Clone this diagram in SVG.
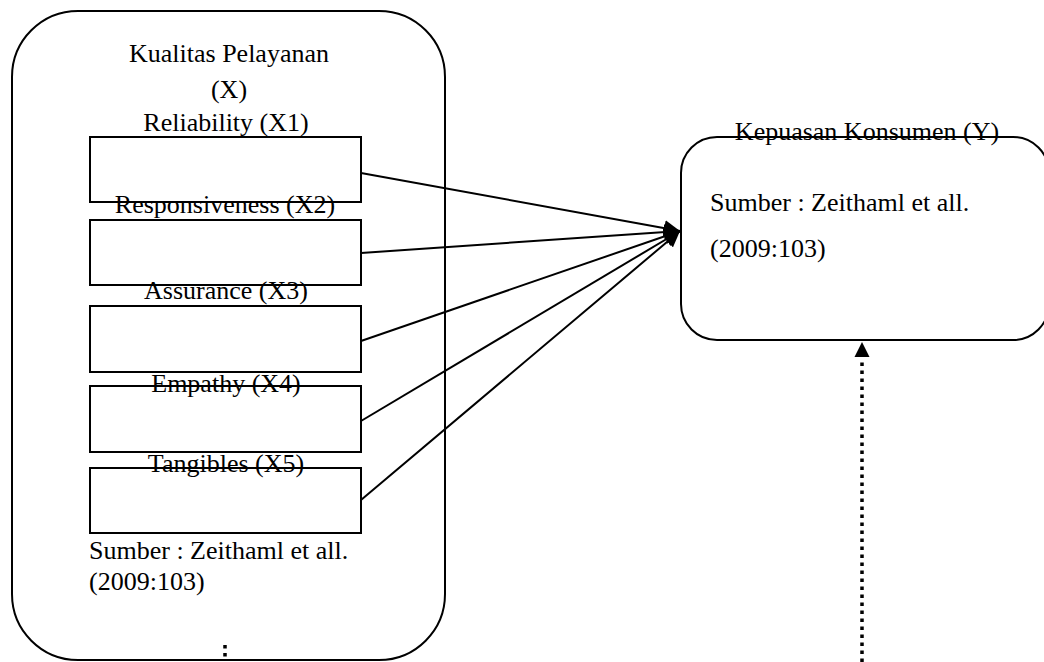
<svg xmlns="http://www.w3.org/2000/svg" width="1044" height="662" viewBox="0 0 1044 662">
<defs>
<style>
text{font-family:"Liberation Serif","Times New Roman",serif;font-size:26px;fill:#000}
.c{text-anchor:middle}
.box{fill:none;stroke:#000;stroke-width:2}
.ln{stroke:#000;stroke-width:2;fill:none}
.dot{stroke:#000;stroke-width:3.5;stroke-dasharray:3.5 4.5;fill:none}
</style>
<marker id="ah" viewBox="0 0 10 10" refX="10" refY="5" markerWidth="9" markerHeight="9" markerUnits="userSpaceOnUse" orient="auto">
<path d="M0,0 L10,5 L0,10 z" fill="#000"/>
</marker>
<marker id="ah2" viewBox="0 0 10 10" refX="10" refY="5" markerWidth="16" markerHeight="16" markerUnits="userSpaceOnUse" orient="auto">
<path d="M0,0 L10,5 L0,10 z" fill="#000"/>
</marker>
</defs>
<g id="kualitas">
<rect class="box" x="12" y="11" width="433" height="649" rx="66" ry="66"/>
<text class="c" x="229" y="62">Kualitas Pelayanan</text>
<text class="c" x="229" y="98">(X)</text>
<text x="89" y="559">Sumber : Zeithaml et all.</text>
<text x="89" y="590">(2009:103)</text>
</g>
<g id="x1"><rect class="box" x="90" y="137" width="271" height="65"/><text class="c" x="226" y="131">Reliability (X1)</text></g>
<g id="x2"><rect class="box" x="90" y="220" width="271" height="65"/><text class="c" x="225" y="213">Responsiveness (X2)</text></g>
<g id="x3"><rect class="box" x="90" y="306" width="271" height="66"/><text class="c" x="226" y="299">Assurance (X3)</text></g>
<g id="x4"><rect class="box" x="90" y="386" width="271" height="66"/><text class="c" x="226" y="392">Empathy (X4)</text></g>
<g id="x5"><rect class="box" x="90" y="468" width="271" height="65"/><text class="c" x="226" y="472">Tangibles (X5)</text></g>
<g id="kepuasan">
<rect class="box" x="681" y="137" width="368" height="203" rx="36" ry="36"/>
<text class="c" x="867" y="140">Kepuasan Konsumen (Y)</text>
<text x="710" y="211">Sumber : Zeithaml et all.</text>
<text x="710" y="257">(2009:103)</text>
</g>
<g id="connectors">
<line class="ln" x1="361" y1="173" x2="680" y2="231" marker-end="url(#ah2)"/>
<line class="ln" x1="361" y1="253" x2="680" y2="231" marker-end="url(#ah2)"/>
<line class="ln" x1="361" y1="341" x2="680" y2="231" marker-end="url(#ah2)"/>
<line class="ln" x1="361" y1="421" x2="680" y2="231" marker-end="url(#ah2)"/>
<line class="ln" x1="361" y1="500" x2="680" y2="231" marker-end="url(#ah2)"/>
<line class="dot" x1="862" y1="662" x2="862" y2="358"/>
<path d="M862,342 L869.5,357 L854.5,357 z" fill="#000"/>
<line class="dot" x1="225" y1="645" x2="225" y2="658"/>
</g>
</svg>
